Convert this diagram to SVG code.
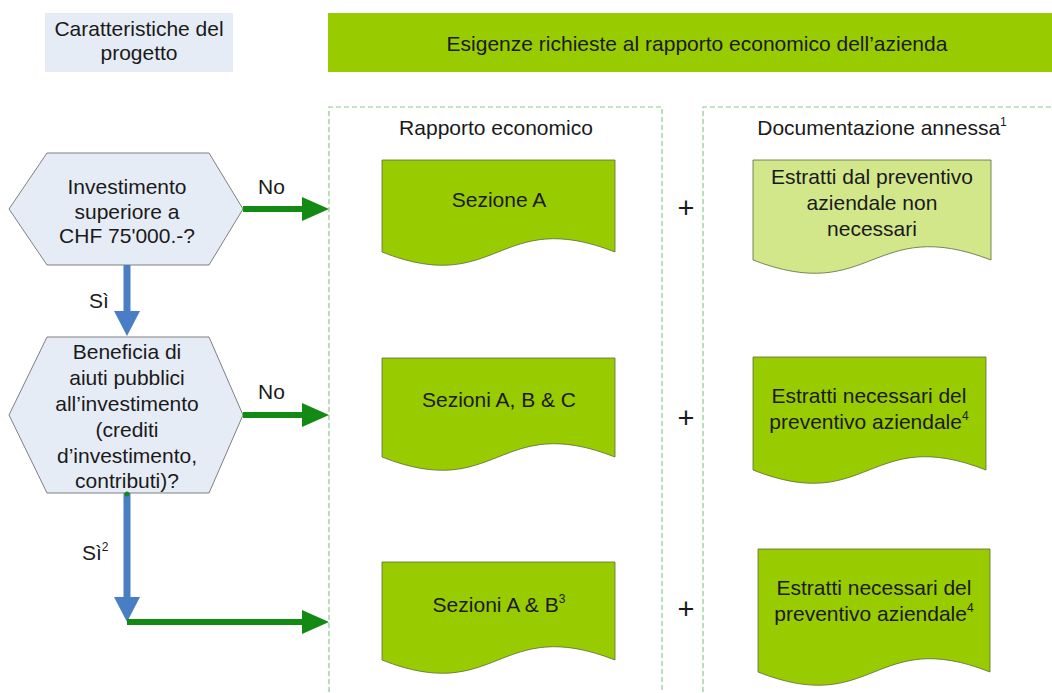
<svg xmlns="http://www.w3.org/2000/svg" width="1052" height="693" viewBox="0 0 1052 693">
<style>
text{font-family:"Liberation Sans",Arial,sans-serif;font-size:21px;fill:#1a1a1a}
.c{text-anchor:middle}
.sup{font-size:12px}
.hex{fill:#e6ecf6;stroke:#7f7f7f;stroke-width:1}
.doc{fill:#99cc00;stroke:#5a6b3a;stroke-width:0.8}
.docl{fill:#d2e68a;stroke:#5a6b3a;stroke-width:0.8}
.frame{fill:none;stroke:#8cc88c;stroke-width:1.2;stroke-dasharray:5,3}
.blue{stroke:#4a7ec4;stroke-width:7;fill:none}
.green{stroke:#138a13;stroke-width:6;fill:none}
.plus{font-size:29px}
</style>
<defs>
<marker id="ag" markerUnits="userSpaceOnUse" markerWidth="27" markerHeight="24" refX="1" refY="12" orient="auto"><path d="M0,0 L27,12 L0,24 Z" fill="#138a13"/></marker>
<marker id="ab" markerUnits="userSpaceOnUse" markerWidth="25" markerHeight="26" refX="1" refY="13" orient="auto"><path d="M0,0 L25,13 L0,26 Z" fill="#4a7ec4"/></marker>
</defs>
<rect width="1052" height="693" fill="#ffffff"/>

<g id="hdr-left">
<rect x="45" y="13" width="188" height="59" fill="#e6ecf5"/>
<text class="c" x="139" y="36">Caratteristiche del</text>
<text class="c" x="139" y="60">progetto</text>
</g>
<g id="hdr-right">
<rect x="328" y="13" width="730" height="59" fill="#99cc00"/>
<text class="c" x="697" y="51">Esigenze richieste al rapporto economico dell’azienda</text>
</g>

<g id="frame-rapporto">
<path class="frame" d="M329,700 V107 H662 V700"/>
<text class="c" x="496" y="135">Rapporto economico</text>
</g>
<g id="frame-doc">
<path class="frame" d="M703,700 V107 H1060"/>
<text class="c" x="882" y="135">Documentazione annessa<tspan class="sup" dy="-9">1</tspan></text>
</g>

<g id="q1">
<polygon class="hex" points="9,209 47,153 209,153 243,209 209,265 47,265"/>
<text class="c" x="127" y="194">Investimento</text>
<text class="c" x="127" y="219">superiore a</text>
<text class="c" x="127" y="243">CHF 75'000.-?</text>
</g>
<g id="q2">
<polygon class="hex" points="9,415 47,337 209,337 243,415 209,493 47,493"/>
<text class="c" x="127" y="359">Beneficia di</text>
<text class="c" x="127" y="385">aiuti pubblici</text>
<text class="c" x="127" y="411">all’investimento</text>
<text class="c" x="127" y="437">(crediti</text>
<text class="c" x="127" y="463">d’investimento,</text>
<text class="c" x="127" y="488">contributi)?</text>
</g>

<g id="docA">
<path class="doc" d="M382,160 H615 V252 C498,206 498,298 382,252 Z"/>
<text class="c" x="499" y="207">Sezione A</text>
</g>
<g id="docA2">
<path class="docl" d="M753,160 H991 V260 C872,214 872,306 753,260 Z"/>
<text class="c" x="872" y="184">Estratti dal preventivo</text>
<text class="c" x="872" y="210">aziendale non</text>
<text class="c" x="872" y="236">necessari</text>
</g>
<g id="docB">
<path class="doc" d="M382,358 H615 V457 C498,411 498,503 382,457 Z"/>
<text class="c" x="499" y="407">Sezioni A, B &amp; C</text>
</g>
<g id="docB2">
<path class="doc" d="M753,357 H986 V470 C869,424 869,516 753,470 Z"/>
<text class="c" x="869" y="403">Estratti necessari del</text>
<text class="c" x="869" y="429">preventivo aziendale<tspan class="sup" dy="-9">4</tspan></text>
</g>
<g id="docC">
<path class="doc" d="M382,562 H615 V660 C498,614 498,706 382,660 Z"/>
<text class="c" x="499" y="612">Sezioni A &amp; B<tspan class="sup" dy="-9">3</tspan></text>
</g>
<g id="docC2">
<path class="doc" d="M758,549 H990 V672 C874,626 874,718 758,672 Z"/>
<text class="c" x="874" y="595">Estratti necessari del</text>
<text class="c" x="874" y="621">preventivo aziendale<tspan class="sup" dy="-9">4</tspan></text>
</g>

<g id="plus">
<text class="c plus" x="686" y="218">+</text>
<text class="c plus" x="686" y="428">+</text>
<text class="c plus" x="686" y="619">+</text>
</g>

<g id="connectors">
<line class="blue" x1="127" y1="265" x2="127" y2="312" marker-end="url(#ab)"/>
<line class="blue" x1="127" y1="493" x2="127" y2="598" marker-end="url(#ab)"/>
<line class="green" x1="243" y1="209" x2="303" y2="209" marker-end="url(#ag)"/>
<line class="green" x1="243" y1="415" x2="303" y2="415" marker-end="url(#ag)"/>
<line class="green" x1="127" y1="622" x2="303" y2="622" marker-end="url(#ag)"/>
<circle cx="127" cy="494" r="2.5" fill="#138a13"/>
<text x="258" y="194">No</text>
<text x="258" y="399">No</text>
<text x="89" y="308">Sì</text>
<text x="82" y="560">Sì<tspan class="sup" dy="-9">2</tspan></text>
</g>
</svg>
